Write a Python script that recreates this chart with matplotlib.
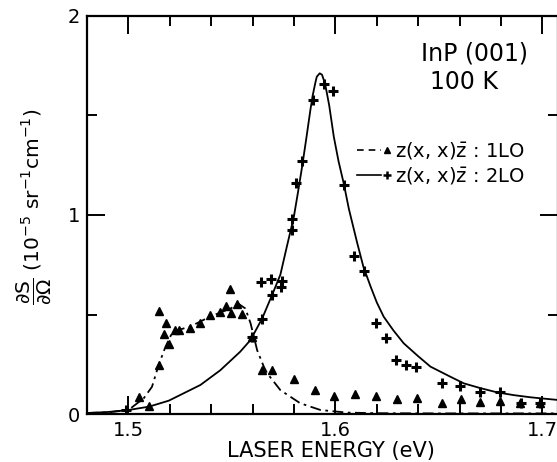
import matplotlib
matplotlib.use("Agg")
import matplotlib.pyplot as plt
from matplotlib.ticker import MultipleLocator, FixedLocator

plt.rcParams['font.family'] = ['DejaVu Sans']
plt.rcParams['mathtext.fontset'] = 'dejavusans'

# 1LO measured points (triangles)
lo1_x = [1.505, 1.510, 1.5146, 1.5148, 1.5174, 1.518, 1.5197, 1.5227, 1.5245, 1.5296,
         1.5348, 1.5396, 1.5444, 1.5473, 1.5493, 1.5496, 1.5525, 1.5549, 1.5595,
         1.5646, 1.5694, 1.5799, 1.5899, 1.5995, 1.6095, 1.6197, 1.6296, 1.6394,
         1.6517, 1.6607, 1.6696, 1.6796, 1.689, 1.6986]
lo1_y = [0.084, 0.040, 0.52, 0.246, 0.40, 0.456, 0.35, 0.42, 0.42, 0.434,
         0.459, 0.50, 0.513, 0.543, 0.627, 0.506, 0.553, 0.503, 0.388,
         0.22, 0.22, 0.174, 0.12, 0.092, 0.10, 0.092, 0.074, 0.079,
         0.057, 0.075, 0.06, 0.065, 0.054, 0.054]

# 2LO measured points (crosses)
lo2_x = [1.499, 1.5597, 1.5644, 1.5641, 1.5689, 1.5694, 1.5738, 1.5742, 1.5791, 1.5791,
         1.5808, 1.584, 1.5892, 1.5944, 1.5989, 1.6043, 1.6092, 1.614, 1.6197,
         1.6245, 1.6293, 1.6343, 1.6391, 1.6515, 1.6604, 1.6696, 1.6794, 1.6894, 1.6987]
lo2_y = [0.02, 0.385, 0.476, 0.663, 0.677, 0.60, 0.637, 0.67, 0.925, 0.978,
         1.159, 1.273, 1.58, 1.658, 1.625, 1.149, 0.794, 0.718, 0.456,
         0.38, 0.27, 0.246, 0.238, 0.154, 0.142, 0.109, 0.109, 0.057, 0.057]

# 2LO fitted curve (solid), traced
fit2_x = [1.480, 1.490, 1.500, 1.510, 1.5195, 1.5348, 1.5444, 1.554, 1.559, 1.5646,
          1.5694, 1.5734, 1.5765, 1.5799, 1.582, 1.5839, 1.586, 1.5879, 1.589, 1.5903,
          1.591, 1.5924, 1.5935, 1.595, 1.597, 1.5992, 1.6015, 1.604, 1.6065, 1.6105,
          1.6135, 1.617, 1.62, 1.6233, 1.628, 1.633, 1.64, 1.6459, 1.655, 1.662,
          1.67, 1.678, 1.686, 1.6942, 1.70, 1.708]
fit2_y = [0.005, 0.010, 0.020, 0.037, 0.067, 0.146, 0.22, 0.313, 0.372, 0.48,
          0.598, 0.70, 0.84, 0.99, 1.12, 1.243, 1.39, 1.528, 1.60, 1.665,
          1.695, 1.712, 1.705, 1.66, 1.55, 1.394, 1.27, 1.159, 1.03, 0.86,
          0.74, 0.64, 0.56, 0.489, 0.42, 0.355, 0.29, 0.238, 0.19, 0.154,
          0.13, 0.109, 0.095, 0.084, 0.078, 0.07]

# 1LO fitted curve (dash-dot), traced
fit1_x = [1.480, 1.490, 1.500, 1.5074, 1.5114, 1.5146, 1.5179, 1.5214, 1.53, 1.5396,
          1.5493, 1.5533, 1.5565, 1.559, 1.5622, 1.5654, 1.567, 1.5734, 1.583,
          1.5928, 1.6056, 1.62, 1.65, 1.68, 1.708]
fit1_y = [0.005, 0.008, 0.02, 0.079, 0.137, 0.246, 0.338, 0.414, 0.44, 0.49,
          0.53, 0.553, 0.53, 0.456, 0.32, 0.238, 0.205, 0.12, 0.054,
          0.02, 0.007, 0.004, 0.003, 0.003, 0.003]

fig = plt.figure(figsize=(5.57, 4.62), dpi=100)
ax = fig.add_axes([87/557, 1-414/462, 471/557, 398/462])

ax.plot(fit2_x, fit2_y, color='black', lw=1.3, ls='-')
ax.plot(fit1_x, fit1_y, color='black', lw=1.3, ls=(0, (6, 2.5, 1.5, 2.5)))
ax.plot(lo1_x, lo1_y, ls='none', marker='^', ms=5.5, color='black')
ax.plot(lo2_x, lo2_y, ls='none', marker='+', ms=6.5, mew=2.2, color='black')

ax.set_xlim(1.48, 1.7075)
ax.set_ylim(0, 2)

ax.xaxis.set_major_locator(FixedLocator([1.5, 1.6, 1.7]))
ax.xaxis.set_minor_locator(MultipleLocator(0.02))
ax.yaxis.set_major_locator(FixedLocator([0, 1, 2]))
ax.yaxis.set_minor_locator(MultipleLocator(0.5))
ax.set_xticklabels(['1.5', '1.6', '1.7'])
ax.set_yticklabels(['0', '1', '2'])

ax.tick_params(which='both', direction='in', top=True, right=True, width=1.4,
               labelsize=14, color='black')
ax.tick_params(which='major', length=13, pad=5)
ax.tick_params(which='minor', length=7)
for s in ax.spines.values():
    s.set_linewidth(1.6)

fig.text(331/557, 1-451/462, 'LASER ENERGY (eV)', fontsize=15, ha='center', va='center')
ax.set_ylabel(r'$\dfrac{\partial \mathrm{S}}{\partial \Omega}$ (10$^{-5}$ sr$^{-1}$cm$^{-1}$)',
              fontsize=14.5)
ax.yaxis.set_label_coords(-0.072, 0.52)

ax.text(0.936, 0.907, 'InP (001)', transform=ax.transAxes, ha='right', va='center',
        fontsize=17)
ax.text(0.80, 0.834, '100 K', transform=ax.transAxes, ha='center', va='center',
        fontsize=17)

# legend (drawn manually)
ax.plot([0.573, 0.625], [0.663, 0.663], transform=ax.transAxes, color='black',
        lw=1.2, ls=(0, (4, 3)))
ax.plot([0.638], [0.663], transform=ax.transAxes, marker='^', ms=4.5, color='black')
ax.plot([0.573, 0.625], [0.600, 0.600], transform=ax.transAxes, color='black', lw=1.2)
ax.plot([0.638], [0.600], transform=ax.transAxes, marker='+', ms=5.5, mew=1.8, color='black')
ax.text(0.654, 0.663, r'z(x, x)$\bar{\mathrm{z}}$ : 1LO', transform=ax.transAxes,
        ha='left', va='center', fontsize=14)
ax.text(0.654, 0.600, r'z(x, x)$\bar{\mathrm{z}}$ : 2LO', transform=ax.transAxes,
        ha='left', va='center', fontsize=14)

fig.savefig('out.png', dpi=100)
